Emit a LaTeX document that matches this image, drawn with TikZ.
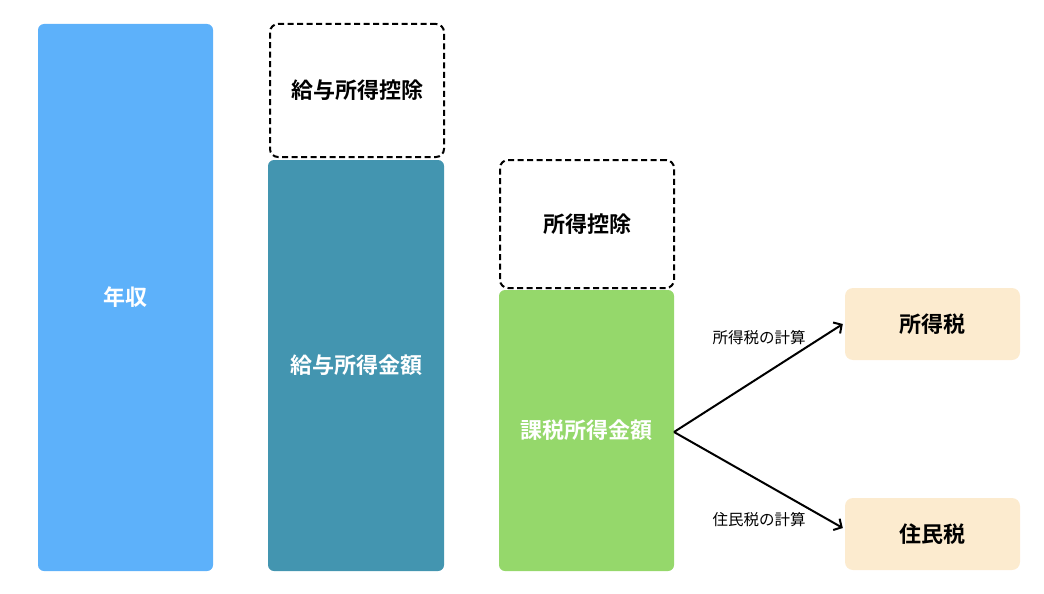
\documentclass[tikz,border=0pt]{standalone}
\usepackage{fontspec}
\newfontfamily\jp{Noto Sans CJK JP}
\newfontfamily\jpb{Noto Sans CJK JP Bold}
\usetikzlibrary{arrows.meta}
\definecolor{cblue}{HTML}{5DB1FA}
\definecolor{cteal}{HTML}{4395B0}
\definecolor{cgreen}{HTML}{95D86B}
\definecolor{cbeige}{HTML}{FCEBCF}
\tikzset{
  bar/.style={rounded corners=6pt, draw=none, inner sep=0pt, text=white, font=\jpb\fontsize{22}{26}\selectfont},
  dedbox/.style={rounded corners=8pt, draw=black, line width=2pt, dash pattern=on 6pt off 3.5pt, inner sep=0pt, font=\jpb\fontsize{22}{26}\selectfont},
  taxbox/.style={rounded corners=8pt, fill=cbeige, draw=none, inner sep=0pt, font=\jpb\fontsize{22}{26}\selectfont},
  arr/.style={-{Straight Barb[length=6pt,width=13pt]}, line width=2pt},
  lbl/.style={font=\jp\fontsize{15.5}{18}\selectfont}
}
\begin{document}
\begin{tikzpicture}[x=1pt,y=-1pt]
\useasboundingbox (0,0) rectangle (1044,594);
\node[bar, fill=cblue, minimum width=175pt, minimum height=547pt] (nenshu) at (125.5,297.5) {年収};
\node[dedbox, minimum width=174pt, minimum height=133pt] (kyuyokoujo) at (357,90.5) {給与所得控除};
\node[bar, fill=cteal, minimum width=176pt, minimum height=411pt] (kyuyokingaku) at (356,365.5) {給与所得金額};
\node[dedbox, minimum width=174pt, minimum height=128pt] (shotokukoujo) at (587,224) {所得控除};
\node[bar, fill=cgreen, minimum width=175pt, minimum height=281pt] (kazei) at (586.5,430.5) {課税所得金額};
\node[taxbox, minimum width=175pt, minimum height=72pt] (shotokuzei) at (932.5,324) {所得税};
\node[taxbox, minimum width=175pt, minimum height=72pt] (juminzei) at (932.5,534) {住民税};
\coordinate (src) at (674,432);
\draw[arr] (src) -- ([xshift=-2pt]shotokuzei.west);
\draw[arr] (src) -- ([xshift=-2pt, yshift=6pt]juminzei.west);
\node[lbl] (l1) at (759,338) {所得税の計算};
\node[lbl] (l2) at (759,520) {住民税の計算};
\end{tikzpicture}
\end{document}
